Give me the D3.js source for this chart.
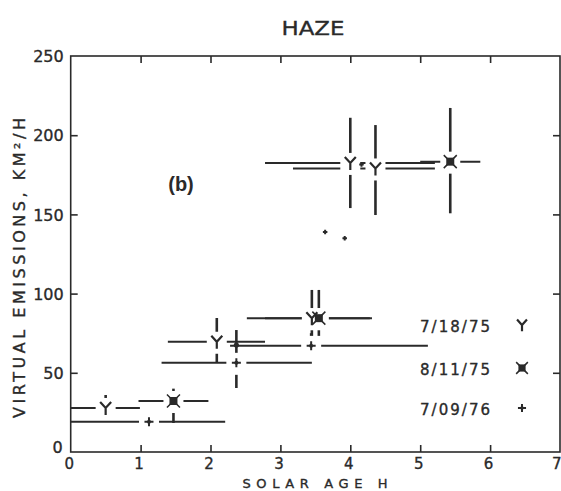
<!DOCTYPE html>
<html>
<head>
<meta charset="utf-8">
<script src="https://cdn.jsdelivr.net/npm/d3@7"></script>
<style>
  html, body { margin: 0; padding: 0; background: #fff; }
  svg { display: block; }
  text { font-family: "DejaVu Sans", sans-serif; fill: #2a2a2a; stroke: #2a2a2a; stroke-width: 0.35px; }
</style>
</head>
<body>
<script>
// Axis ticks
const ageTicks = [0, 1, 2, 3, 4, 5, 6, 7];
const emissionTicks = [0, 50, 100, 150, 200, 250];

// Legend entries (observation dates)
const dates = ["7/18/75", "8/11/75", "7/09/76"];

// 7/18/75 observations: solar age (h), virtual emission (km²/h) and error ranges
const obs071875 = [
  { age: 0.50, em: 27.8, ageLo: 0.00, ageHi: 0.99, emLo: null, emHi: 36 },
  { age: 2.09, em: 69.6, ageLo: 1.39, ageHi: 2.78, emLo: 56.8, emHi: 84.6 },
  { age: 3.45, em: 84.5, ageLo: 2.52, ageHi: 4.28, emLo: 72, emHi: 102.3 },
  { age: 4.00, em: 182.5, ageLo: 2.78, ageHi: 5.21, emLo: 154, emHi: 211 },
  { age: 4.36, em: 179.0, ageLo: 3.18, ageHi: 5.21, emLo: 149.6, emHi: 206.4 }
];

// 8/11/75 observations
const obs081175 = [
  { age: 1.47, em: 32.2, ageLo: 0.97, ageHi: 1.97, emLo: 18.3, emHi: 40 },
  { age: 2.37, em: 67.5, ageLo: null, ageHi: null, emLo: null, emHi: null },
  { age: 3.55, em: 84.5, ageLo: 2.78, ageHi: 4.31, emLo: 72, emHi: 102.3 },
  { age: 5.43, em: 183.3, ageLo: 5.00, ageHi: 5.86, emLo: 150.7, emHi: 217.2 }
];

// 7/09/76 observations
const obs070976 = [
  { age: 1.12, em: 19.1, ageLo: 0.00, ageHi: 2.21, emLo: null, emHi: null },
  { age: 2.37, em: 56.3, ageLo: 1.30, ageHi: 3.45, emLo: 40.4, emHi: 77 },
  { age: 3.44, em: 67.0, ageLo: 2.28, ageHi: 5.11, emLo: 60, emHi: 75 },
  { age: 3.64, em: 138.9, ageLo: null, ageHi: null, emLo: null, emHi: null },
  { age: 3.92, em: 135.0, ageLo: null, ageHi: null, emLo: null, emHi: null },
  { age: 4.16, em: 181.5, ageLo: null, ageHi: null, emLo: null, emHi: null }
];

const W = 561, H = 491;
const plot = { left: 70.7, right: 560, top: 56, bottom: 452 };
const ink = "#2a2a2a";

const svg = d3.select("body").append("svg")
  .attr("width", W).attr("height", H);

const x = d3.scaleLinear().domain([0, 7]).range([plot.left, plot.right]);
const y = d3.scaleLinear().domain([0, 250]).range([plot.bottom, plot.top]);

// Frame with inward ticks on all four sides
const tickLen = 7;
svg.append("rect")
  .attr("x", plot.left).attr("y", plot.top)
  .attr("width", plot.right - plot.left).attr("height", plot.bottom - plot.top)
  .attr("fill", "none").attr("stroke", ink).attr("stroke-width", 1.6);

const bottomAxis = d3.axisBottom(x).tickValues(ageTicks).tickSize(-tickLen).tickFormat(d => d);
const topAxis = d3.axisTop(x).tickValues(ageTicks.slice(1, -1)).tickSize(-tickLen).tickFormat("");
const leftAxis = d3.axisLeft(y).tickValues(emissionTicks).tickSize(-tickLen).tickFormat(d => d);
const rightAxis = d3.axisRight(y).tickValues(emissionTicks.slice(1, -1)).tickSize(-tickLen).tickFormat("");

function styleAxis(g) {
  g.select(".domain").remove();
  g.selectAll(".tick line").attr("stroke", ink).attr("stroke-width", 1.6);
  g.selectAll(".tick text")
    .attr("fill", ink).style("font-family", "DejaVu Sans, sans-serif")
    .style("font-size", "16px");
}

const gb = svg.append("g").attr("transform", `translate(0,${plot.bottom})`).call(bottomAxis).call(styleAxis);
gb.selectAll(".tick text").attr("y", 17).attr("dy", 0).attr("dx", -2).style("font-size", "15px");
gb.selectAll(".tick").filter(d => d === 0 || d === 7).select("line").remove();
gb.selectAll(".tick").filter(d => d === 7).select("text")
  .attr("text-anchor", "end").attr("dx", 1);

svg.append("g").attr("transform", `translate(0,${plot.top})`).call(topAxis).call(styleAxis);

const gl = svg.append("g").attr("transform", `translate(${plot.left},0)`).call(leftAxis).call(styleAxis);
gl.selectAll(".tick text").attr("x", -7).attr("dy", "0.36em");
gl.selectAll(".tick").filter(d => d === 0 || d === 250).select("line").remove();
gl.selectAll(".tick").filter(d => d === 0).select("text").attr("x", -8).attr("dy", "0.05em");

svg.append("g").attr("transform", `translate(${plot.right},0)`).call(rightAxis).call(styleAxis);

// Titles
svg.append("text").attr("x", 313).attr("y", 35).attr("text-anchor", "middle")
  .attr("textLength", 63).attr("lengthAdjust", "spacingAndGlyphs")
  .style("font-size", "20px").text("HAZE");

svg.append("text").attr("x", 315).attr("y", 488).attr("text-anchor", "middle")
  .attr("textLength", 145).attr("lengthAdjust", "spacing")
  .style("font-size", "13px").text("SOLAR AGE  H");

svg.append("text")
  .attr("transform", "translate(25,268) rotate(-90)")
  .attr("text-anchor", "middle")
  .attr("textLength", 300).attr("lengthAdjust", "spacing")
  .style("font-size", "16px").text("VIRTUAL EMISSIONS, KM²/H");

svg.append("text").attr("x", 181).attr("y", 191).attr("text-anchor", "middle")
  .style("font-family", "Liberation Sans, Arial, sans-serif")
  .style("font-weight", "bold").style("font-size", "20px").style("stroke-width", "0")
  .text("(b)");

// Marker glyphs
function drawY(g, s = 1) {
  g.append("path").attr("d", `M${-5.5 * s},${-6 * s} L0,0 L${5.5 * s},${-6 * s} M0,0 L0,${7 * s}`)
    .attr("fill", "none").attr("stroke", ink).attr("stroke-width", 2.2);
}
function drawStar(g, s = 1) {
  g.append("rect").attr("x", -4 * s).attr("y", -4 * s).attr("width", 8 * s).attr("height", 8 * s)
    .attr("fill", ink);
  g.append("path").attr("d", `M${-6.5 * s},${-6.5 * s} L${6.5 * s},${6.5 * s} M${6.5 * s},${-6.5 * s} L${-6.5 * s},${6.5 * s}`)
    .attr("stroke", ink).attr("stroke-width", 1.5);
}
function drawPlus(g, s = 1) {
  g.append("path").attr("d", `M${-4.5 * s},0 H${4.5 * s} M0,${-4.5 * s} V${4.5 * s}`)
    .attr("stroke", ink).attr("stroke-width", 2);
  g.append("circle").attr("r", 2 * s).attr("fill", ink);
}
function drawDot(g) {
  g.append("circle").attr("r", 2.6).attr("fill", ink);
}

const series = [
  { data: obs071875, glyph: drawY },
  { data: obs081175, glyph: drawStar },
  { data: obs070976, glyph: drawPlus }
];

// Error bars
const bars = svg.append("g").attr("stroke", ink).attr("stroke-width", 2);
series.forEach(s => {
  s.data.forEach(d => {
    if (d.ageLo !== null) {
      bars.append("line").attr("x1", x(d.ageLo)).attr("x2", x(d.ageHi))
        .attr("y1", y(d.em)).attr("y2", y(d.em));
    }
    if (d.emHi !== null) {
      bars.append("line").attr("x1", x(d.age)).attr("x2", x(d.age))
        .attr("y1", y(d.emLo !== null ? d.emLo : d.em)).attr("y2", y(d.emHi))
        .attr("stroke-width", 2.6);
    }
  });
});

// Clear a small gap around each marker that carries error bars
const gaps = svg.append("g");
series.forEach(s => {
  s.data.filter(d => d.ageLo !== null || d.emHi !== null).forEach(d => {
    gaps.append("rect").attr("x", x(d.age) - 10).attr("y", y(d.em) - 10)
      .attr("width", 20).attr("height", 22).attr("fill", "#fff");
  });
});

// Markers
series.forEach((s, i) => {
  s.data.forEach(d => {
    const g = svg.append("g").attr("transform", `translate(${x(d.age)},${y(d.em)})`);
    const plain = d.ageLo === null && d.emHi === null;
    if (plain && i === 1) drawDot(g);
    else if (plain) drawPlus(g, 0.5);
    else s.glyph(g);
  });
});

// Legend
const legendY = [326, 369, 409];
dates.forEach((t, i) => {
  svg.append("text").attr("x", 420).attr("y", legendY[i] + 6)
    .attr("textLength", 70).attr("lengthAdjust", "spacing")
    .style("font-size", "15px").text(t);
  const g = svg.append("g").attr("transform", `translate(522,${legendY[i] - 1})`);
  series[i].glyph(g, 0.9);
});
</script>
</body>
</html>
